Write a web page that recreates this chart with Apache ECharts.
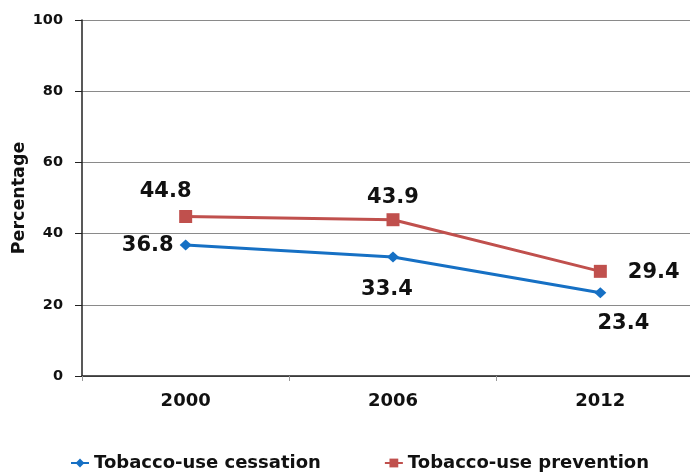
<!DOCTYPE html>
<html>
<head>
<meta charset="utf-8">
<script src="https://cdn.jsdelivr.net/npm/echarts@6/dist/echarts.min.js"></script>
<style>
  html, body { margin: 0; padding: 0; background: #fff; overflow: hidden; }
  #chart { width: 690px; height: 472px; }
</style>
</head>
<body>
<div id="chart"></div>
<script>
// Survey years and percentages per curriculum topic
const years = ['2000', '2006', '2012'];
const cessation = [36.8, 33.4, 23.4];
const prevention = [44.8, 43.9, 29.4];
const yTicks = [0, 20, 40, 60, 80, 100];

const FONT = '"DejaVu Sans", Verdana, sans-serif';

// Per-point label placement for each series
const cessationLabels = [
  { position: 'left', offset: [-1, 1] },
  { position: 'bottom', offset: [-6, 11] },
  { position: 'bottom', offset: [23, 10] }
];
const preventionLabels = [
  { position: 'top', offset: [-20, -3] },
  { position: 'top', offset: [0, 0] },
  { position: 'right', offset: [16, 1] }
];

const labelBase = {
  show: true,
  fontFamily: FONT,
  fontWeight: 'bold',
  fontSize: 21,
  color: '#111'
};

function withLabels(values, labels) {
  return values.map((v, i) => ({
    value: v,
    label: Object.assign({}, labelBase, labels[i])
  }));
}

const chart = echarts.init(document.getElementById('chart'), null, { renderer: 'canvas' });
chart.setOption({
  animation: false,
  backgroundColor: '#fff',
  // plot area runs past the right edge of the canvas, as in the original layout
  grid: {
    left: 82, top: 20, width: 622, height: 356,
    containLabel: false,
    outerBoundsMode: 'none'
  },
  legend: {
    top: 454,
    left: 70,
    padding: 0,
    itemGap: 63,
    itemWidth: 18,
    itemHeight: 11,
    textStyle: { fontFamily: FONT, fontWeight: 'bold', fontSize: 18, color: '#111' },
    data: ['Tobacco-use cessation', 'Tobacco-use prevention']
  },
  xAxis: {
    type: 'category',
    data: years,
    boundaryGap: true,
    axisLine: { lineStyle: { color: '#222', width: 1.5 } },
    axisTick: { show: true, length: 5, lineStyle: { color: '#999' } },
    axisLabel: { fontFamily: FONT, fontWeight: 'bold', fontSize: 18, color: '#111', margin: 16 }
  },
  yAxis: {
    type: 'value',
    min: yTicks[0],
    max: yTicks[yTicks.length - 1],
    interval: 20,
    name: 'Percentage',
    nameLocation: 'middle',
    nameGap: 54,
    nameMoveOverlap: false,
    nameRotate: 90,
    nameTextStyle: { fontFamily: FONT, fontWeight: 'bold', fontSize: 17.5, color: '#111' },
    axisLine: { show: true, lineStyle: { color: '#222', width: 1.5 } },
    axisTick: { show: true, length: 7, lineStyle: { color: '#222' } },
    axisLabel: { fontFamily: FONT, fontWeight: 'bold', fontSize: 14.5, color: '#111', margin: 19 },
    splitLine: { show: true, lineStyle: { color: '#8a8a8a', width: 1.2 } }
  },
  series: [
    {
      name: 'Tobacco-use cessation',
      type: 'line',
      data: withLabels(cessation, cessationLabels),
      symbol: 'diamond',
      symbolSize: [12, 11],
      color: '#1670c4',
      lineStyle: { width: 3, color: '#1670c4' },
      itemStyle: { color: '#1670c4' }
    },
    {
      name: 'Tobacco-use prevention',
      type: 'line',
      data: withLabels(prevention, preventionLabels),
      symbol: 'rect',
      symbolSize: 13,
      color: '#c0504d',
      lineStyle: { width: 3, color: '#c0504d' },
      itemStyle: { color: '#c0504d' }
    }
  ]
});
</script>
</body>
</html>
